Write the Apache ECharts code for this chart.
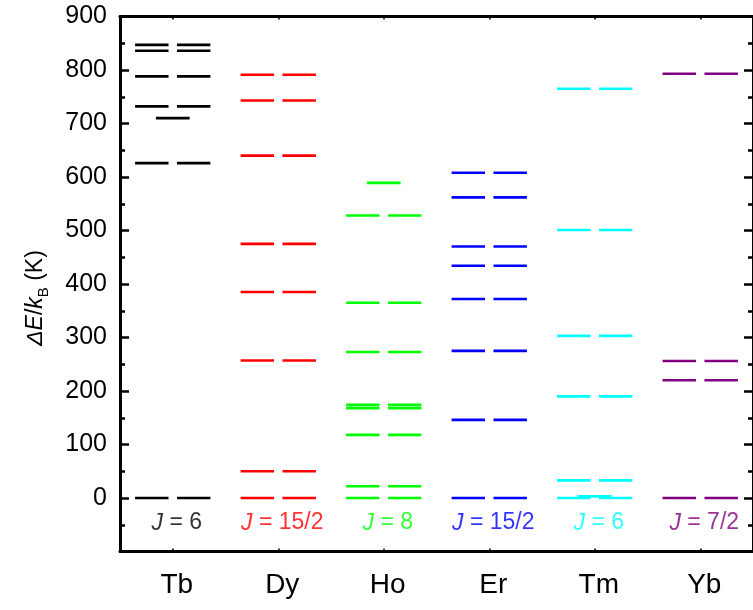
<!DOCTYPE html>
<html>
<head>
<meta charset="utf-8">
<script src="https://cdn.jsdelivr.net/npm/echarts@6/dist/echarts.min.js"></script>
<style>
html,body{margin:0;padding:0;background:#fff;}
#chart{width:753px;height:610px;}
</style>
</head>
<body>
<div id="chart"></div>
<script>
// ---- data ----
const categories = ['Tb', 'Dy', 'Ho', 'Er', 'Tm', 'Yb'];
const jValues = ['6', '15/2', '8', '15/2', '6', '7/2'];
// crystal-field levels drawn as split (two-dash) lines
const tbLevels = [0, 626, 732, 788, 836, 847];
const dyLevels = [0, 50, 257, 385, 475, 640, 743, 791];
const hoLevels = [0, 22, 118, 168, 174, 273, 365, 528];
const erLevels = [0, 146, 275, 372, 434, 470, 562, 608];
const tmLevels = [0, 33, 190, 303, 501, 765];
const ybLevels = [0, 220, 256, 793];
// levels drawn as a single centred dash
const tbSingle = [710];
const dySingle = [];
const hoSingle = [589];
const erSingle = [];
const tmSingle = [3];
const ybSingle = [];
const yTicks = { min: -100, max: 900, interval: 100 };

// ---- styling ----
const colors = ['#000000', '#ff0000', '#00ff00', '#0000ff', '#00ffff', '#800080'];
const FONT = 'Liberation Sans, Arial, sans-serif';
const jLabelValue = -47;

const levelSets = [tbLevels, dyLevels, hoLevels, erLevels, tmLevels, ybLevels];
const singleSets = [tbSingle, dySingle, hoSingle, erSingle, tmSingle, ybSingle];

function renderLevel(params, api) {
  const c = api.coord([api.value(0), api.value(1)]);
  const bw = api.size([1, 0])[0];
  const kind = api.value(2);
  const style = { stroke: api.visual('color'), lineWidth: 2.6 };
  if (kind === 1) {
    return { type: 'line', shape: { x1: c[0] - 0.16 * bw, y1: c[1], x2: c[0] + 0.16 * bw, y2: c[1] }, style: style };
  }
  return {
    type: 'group',
    children: [
      { type: 'line', shape: { x1: c[0] - 0.357 * bw, y1: c[1], x2: c[0] - 0.04 * bw, y2: c[1] }, style: style },
      { type: 'line', shape: { x1: c[0] + 0.04 * bw, y1: c[1], x2: c[0] + 0.357 * bw, y2: c[1] }, style: style }
    ]
  };
}

const series = categories.map(function (name, i) {
  const data = levelSets[i].map(v => [i, v, 0]).concat(singleSets[i].map(v => [i, v, 1]));
  return {
    name: name,
    type: 'custom',
    renderItem: renderLevel,
    itemStyle: { color: colors[i] },
    encode: { x: 0, y: 1 },
    data: data,
    silent: true
  };
});

series.push({
  type: 'scatter',
  symbolSize: 0,
  silent: true,
  data: categories.map(function (name, i) {
    return {
      value: [i, jLabelValue],
      label: {
        show: true,
        position: 'inside',
        offset: [4, 0],
        color: colors[i],
        fontFamily: FONT,
        fontSize: 23,
        formatter: '{j|J} = ' + jValues[i],
        rich: { j: { fontStyle: 'italic', fontSize: 23, fontFamily: FONT, color: colors[i] } }
      }
    };
  })
});

const chart = echarts.init(document.getElementById('chart'), null, { renderer: 'canvas' });

const baseY = {
  type: 'value',
  min: yTicks.min,
  max: yTicks.max,
  interval: yTicks.interval,
  splitLine: { show: false },
  axisLine: { show: true, lineStyle: { color: '#000', width: 3 } },
  axisTick: { show: true, inside: true, length: 9, lineStyle: { color: '#000', width: 2.5 } },
  minorTick: { show: true, splitNumber: 2, length: 5, lineStyle: { color: '#000', width: 2.5 } }
};

chart.setOption({
  animation: false,
  backgroundColor: '#ffffff',
  grid: { left: 120, top: 16.5, width: 640, height: 535, containLabel: false },
  xAxis: [
    {
      type: 'category',
      data: categories,
      position: 'bottom',
      boundaryGap: true,
      axisLine: { show: true, onZero: false, lineStyle: { color: '#000', width: 3 } },
      axisTick: { show: true, inside: true, alignWithLabel: true, length: 3, lineStyle: { color: '#000', width: 1.5 } },
      axisLabel: { color: '#000', fontSize: 28, fontFamily: FONT, margin: 20, padding: [0, 0, 0, 8] },
      splitLine: { show: false }
    },
    {
      type: 'category',
      data: categories,
      position: 'top',
      boundaryGap: true,
      axisLine: { show: true, onZero: false, lineStyle: { color: '#000', width: 3 } },
      axisTick: { show: true, inside: true, alignWithLabel: true, length: 3, lineStyle: { color: '#000', width: 1.5 } },
      axisLabel: { show: false },
      splitLine: { show: false }
    }
  ],
  yAxis: [
    Object.assign({}, baseY, {
      position: 'left',
      axisLabel: {
        color: '#000', fontSize: 25, fontFamily: FONT, margin: 13,
        formatter: function (v) { return v < 0 ? '' : String(v); }
      }
    }),
    Object.assign({}, baseY, {
      position: 'right',
      axisLabel: { show: false }
    })
  ],
  graphic: [
    {
      type: 'text',
      x: 36,
      y: 298,
      rotation: Math.PI / 2,
      style: {
        text: '{i|ΔE}/{i|k}{s|B} (K)',
        fill: '#000',
        font: '23px ' + FONT,
        align: 'center',
        verticalAlign: 'middle',
        rich: {
          i: { fontStyle: 'italic', fontSize: 23, fontFamily: FONT, fill: '#000', lineHeight: 30 },
          s: { fontSize: 15, fontFamily: FONT, fill: '#000', verticalAlign: 'bottom', lineHeight: 30 }
        }
      }
    }
  ],
  series: series
});
</script>
</body>
</html>
